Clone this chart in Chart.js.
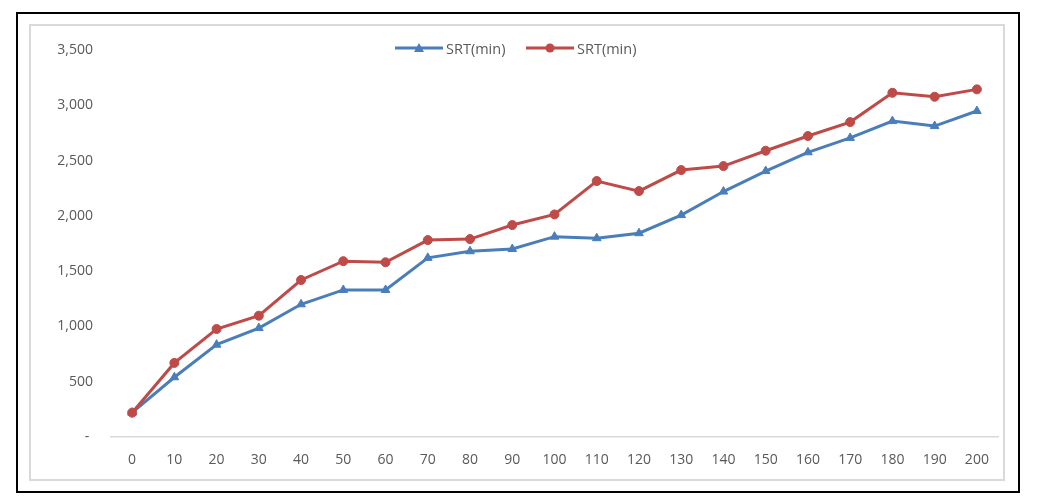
<!DOCTYPE html>
<html>
<head>
<meta charset="utf-8">
<script src="https://cdn.jsdelivr.net/npm/chart.js@4.4.0/dist/chart.umd.min.js"></script>
<style>
  html, body { margin:0; padding:0; background:#fff; }
  #wrap { position:relative; width:1039px; height:499px; overflow:hidden; }
  #outer { position:absolute; left:16px; top:12px; width:1000px; height:477px; border:2px solid #000; box-sizing:content-box; }
  #inner { position:absolute; left:29px; top:24px; width:972px; height:453px; border:2px solid #d9d9d9; }
  canvas { position:absolute; left:0; top:0; }
  #legend { position:absolute; top:39px; left:0; font-family:"Open Sans", sans-serif; font-size:14.5px; color:#595959; }
  .item { position:absolute; white-space:nowrap; display:flex; align-items:center; height:18px; }
  .item svg { margin-right:3px; }
</style>
</head>
<body>
<div id="wrap">
  <div id="outer"></div>
  <div id="inner"></div>
  <canvas id="c" width="1039" height="499"></canvas>
  <div id="legend"></div>
</div>
<script>
const categories = ["0","10","20","30","40","50","60","70","80","90","100","110","120","130","140","150","160","170","180","190","200"];
const seriesBlue = [220, 540, 835, 985, 1200, 1330, 1330, 1620, 1680, 1700, 1812, 1798, 1843, 2007, 2220, 2405, 2575, 2705, 2857, 2812, 2948];
const seriesRed  = [220, 670, 977, 1097, 1420, 1590, 1580, 1781, 1790, 1917, 2013, 2315, 2224, 2414, 2450, 2589, 2722, 2848, 3113, 3077, 3144];
const seriesLabels = ["SRT(min)", "SRT(min)"];
const yTicks = [0, 500, 1000, 1500, 2000, 2500, 3000, 3500];

const BLUE = "#4a7ebb";
const RED = "#be4b48";
const TXT = "#595959";
const FONT = { family: "'Open Sans', sans-serif", size: 14 };

const chart = new Chart(document.getElementById("c"), {
  type: "line",
  data: {
    labels: categories,
    datasets: [
      { label: seriesLabels[0], data: seriesBlue, borderColor: BLUE, backgroundColor: BLUE,
        borderWidth: 3, pointStyle: "triangle", pointRadius: 5, pointBorderWidth: 1,
        pointBackgroundColor: BLUE, pointBorderColor: BLUE, tension: 0, order: 1 },
      { label: seriesLabels[1], data: seriesRed, borderColor: RED, backgroundColor: RED,
        borderWidth: 3, pointStyle: "circle", pointRadius: 4.5, pointBorderWidth: 1,
        pointBackgroundColor: RED, pointBorderColor: RED, tension: 0, order: 0 }
    ]
  },
  options: {
    responsive: false,
    animation: false,
    layout: { padding: { left: 0, right: 41, top: 50, bottom: 0 } },
    plugins: { legend: { display: false }, tooltip: { enabled: false } },
    scales: {
      x: {
        type: "category",
        offset: true,
        grid: { display: false, drawTicks: false },
        border: { display: true, color: "#d9d9d9", width: 1.5 },
        ticks: { color: TXT, font: FONT, padding: 15, maxRotation: 0, autoSkip: false },
        afterFit: (s) => { s.height = 62; }
      },
      y: {
        min: 0, max: 3500,
        afterBuildTicks: (s) => { s.ticks = yTicks.map(v => ({ value: v })); },
        grid: { display: false, drawTicks: false },
        border: { display: false },
        ticks: { color: TXT, font: FONT, padding: 18,
          callback: (v) => v === 0 ? "- " : Number(v).toLocaleString("en-US") },
        afterFit: (s) => { s.width = 111; }
      }
    }
  }
});

// HTML legend built from dataset definitions
const legend = document.getElementById("legend");
const legendPos = [395, 526];
chart.data.datasets.forEach((ds, i) => {
  const item = document.createElement("div");
  item.className = "item";
  item.style.left = legendPos[i] + "px";
  const marker = ds.pointStyle === "triangle"
    ? '<polygon points="24,4 29,13 19,13" fill="' + ds.borderColor + '"/>'
    : '<circle cx="24" cy="9" r="4.5" fill="' + ds.borderColor + '"/>';
  item.innerHTML = '<svg width="48" height="18"><line x1="0" y1="9" x2="48" y2="9" stroke="' + ds.borderColor +
    '" stroke-width="3"/>' + marker + '</svg><span>' + ds.label + '</span>';
  legend.appendChild(item);
});
</script>
</body>
</html>
